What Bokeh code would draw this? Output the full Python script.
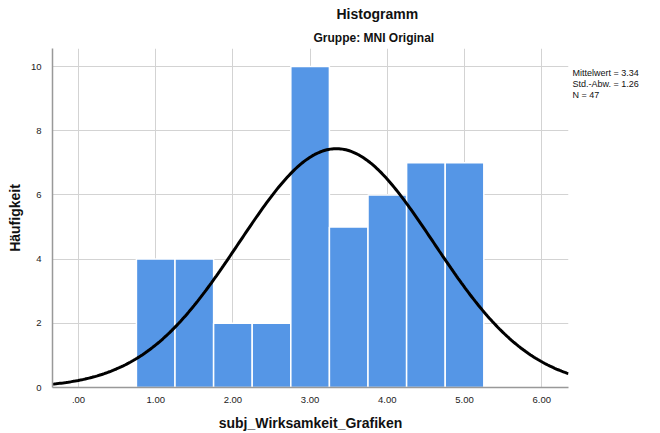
import math
import numpy as np
from bokeh.plotting import figure
from bokeh.models import Range1d, FixedTicker, LinearAxis, Title
from bokeh.embed import file_html
from bokeh.resources import INLINE

# Histogram of subj_Wirksamkeit_Grafiken (group: MNI Original)
bin_centers = [1.0, 1.5, 2.0, 2.5, 3.0, 3.5, 4.0, 4.5, 5.0]
counts = [4, 4, 2, 2, 10, 5, 6, 7, 7]
bin_width = 0.5

mean_value = 3.34
std_value = 1.26
n_value = 47

x_ticks = [0, 1, 2, 3, 4, 5, 6]
x_tick_labels = [".00", "1.00", "2.00", "3.00", "4.00", "5.00", "6.00"]
y_ticks = [0, 2, 4, 6, 8, 10]

FONT = "Liberation Sans"

W, H = 660, 433
FL, FR, FT, FB = 52, 568, 48, 387          # frame edges in pixels
X0, X1 = -0.337, -0.337 + (FR - FL) / 77.2
Y0, Y1 = 0.0, (FB - FT) / 32.1

p = figure(width=W, height=H, output_backend="svg", toolbar_location=None,
           x_range=Range1d(X0, X1), y_range=Range1d(Y0, Y1),
           min_border_left=FL, min_border_right=W - FR,
           min_border_top=FT, min_border_bottom=H - FB)
p.outline_line_color = None
p.background_fill_color = "white"
p.border_fill_color = "white"

# bars
lefts = [c - bin_width / 2 for c in bin_centers]
rights = [c + bin_width / 2 for c in bin_centers]
p.quad(left=lefts, right=rights, bottom=0, top=counts,
       fill_color="#5596E6", line_color="white", line_width=1.5)

# fitted normal curve scaled to the counts
xs = np.linspace(X0, X1, 300)
ys = n_value * bin_width * np.exp(-0.5 * ((xs - mean_value) / std_value) ** 2) / (
    std_value * math.sqrt(2 * math.pi))
p.line(xs, ys, line_color="black", line_width=3)

# axes
p.xaxis.ticker = FixedTicker(ticks=x_ticks)
p.xaxis.major_label_overrides = {t: l for t, l in zip(x_ticks, x_tick_labels)}
p.yaxis.ticker = FixedTicker(ticks=y_ticks)
for ax in (p.xaxis, p.yaxis):
    ax.axis_line_color = "#999999"
    ax.axis_line_width = 1.5
    ax.major_tick_line_color = None
    ax.minor_tick_line_color = None
    ax.major_label_text_font = FONT
    ax.major_label_text_font_size = "9.5px"
    ax.major_label_text_color = "#222222"
    ax.axis_label_text_font = FONT
    ax.axis_label_text_font_size = "14px"
    ax.axis_label_text_font_style = "bold"
    ax.axis_label_text_color = "#111111"
p.xaxis.major_label_standoff = 3
p.yaxis.major_label_standoff = 5
p.xaxis.axis_label = "subj_Wirksamkeit_Grafiken"
p.yaxis.axis_label = "Häufigkeit"
p.xaxis.axis_label_standoff = 9
p.yaxis.axis_label_standoff = 5

p.xgrid.ticker = FixedTicker(ticks=x_ticks)
p.ygrid.ticker = FixedTicker(ticks=y_ticks)
p.grid.grid_line_color = "#D3D3D3"
p.grid.grid_line_width = 1

# summary statistics shown beside the frame, top right
stats_lines = [f"Mittelwert = {mean_value:.2f}",
               f"Std.-Abw. = {std_value:.2f}",
               f"N = {n_value}"]
stats_y = [Y1 - (72 - FT) / 32.1, Y1 - (83 - FT) / 32.1, Y1 - (94 - FT) / 32.1]
stats_axis = LinearAxis(ticker=FixedTicker(ticks=stats_y),
                        major_label_overrides={y: t for y, t in zip(stats_y, stats_lines)},
                        axis_line_color=None, major_tick_line_color=None,
                        minor_tick_line_color=None, major_label_standoff=-2,
                        major_label_text_font=FONT,
                        major_label_text_font_size="9px",
                        major_label_text_color="#111111")
p.add_layout(stats_axis, "right")

# titles: main title outermost, group subtitle next to the frame
p.title.text = "Histogramm"
p.title.text_font = FONT
p.title.text_font_size = "14px"
p.title.text_font_style = "bold"
p.title.text_color = "#111111"
p.title.align = "left"
p.title.offset = 284
p.title.standoff = 7

p.add_layout(Title(text="Gruppe: MNI Original", text_font=FONT,
                   text_font_size="12px", text_font_style="bold",
                   text_color="#111111", align="left", offset=261,
                   standoff=7), "above")

open("out.html", "w").write(file_html(p, INLINE))
